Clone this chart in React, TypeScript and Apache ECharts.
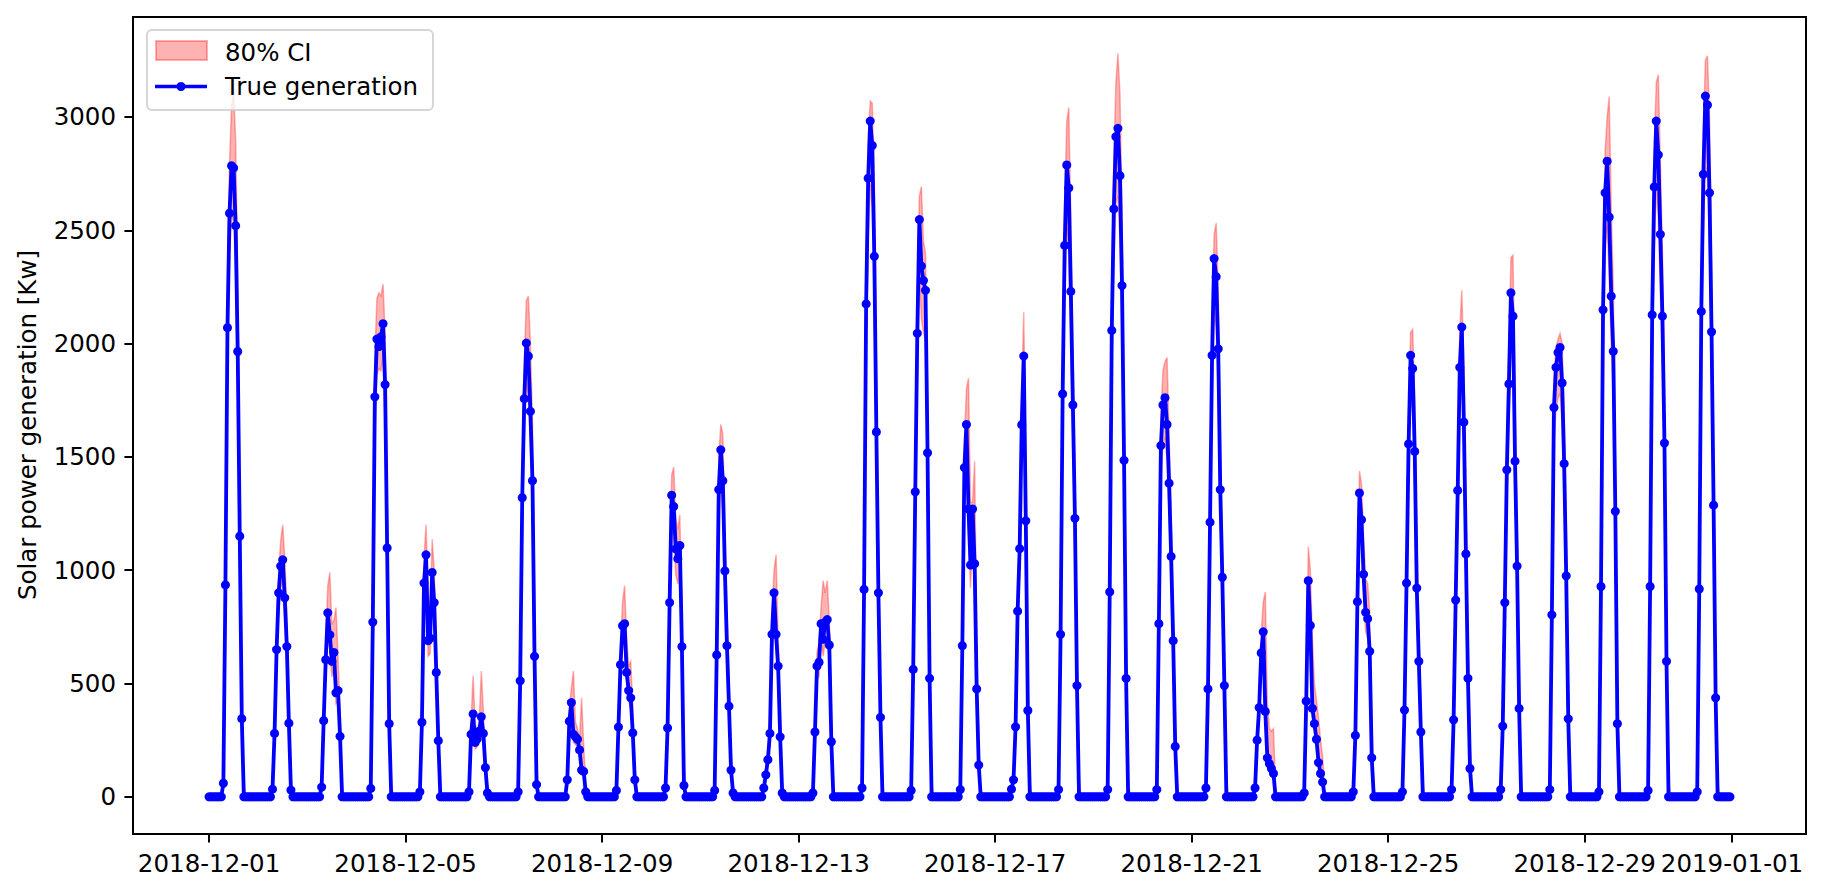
import React, { useEffect, useRef } from "react";
import * as echarts from "echarts";

// Hourly data, Dec 1 2018 00:00 .. Dec 31 2018 23:00. Daytime values start at 07:00.
const startHour = 7;
const numDays = 31;

// True generation, hours 07..16 per day (0 at all other hours)
const trueGen: number[][] = [
  [60, 935, 2070, 2575, 2785, 2775, 2520, 1965, 1150, 345],
  [34, 280, 650, 900, 1018, 1046, 878, 663, 325, 30],
  [43, 336, 605, 812, 715, 598, 637, 459, 469, 267],
  [37, 771, 1765, 2020, 1987, 2030, 2088, 1819, 1098, 323],
  [22, 329, 943, 1068, 689, 700, 990, 857, 549, 248],
  [22, 276, 366, 240, 255, 290, 353, 280, 129, 17],
  [22, 512, 1320, 1757, 2002, 1944, 1701, 1395, 620, 54],
  [75, 334, 416, 276, 265, 254, 207, 118, 112, 22],
  [28, 308, 583, 755, 764, 549, 469, 437, 282, 75],
  [39, 304, 857, 1331, 1281, 1094, 1051, 1109, 663, 50],
  [28, 626, 1356, 1531, 1395, 997, 667, 400, 118, 17],
  [39, 97, 164, 280, 717, 900, 717, 577, 265, 17],
  [17, 286, 577, 594, 764, 695, 771, 782, 670, 243],
  [39, 915, 2175, 2730, 2982, 2874, 2385, 1610, 900, 351],
  [28, 562, 1346, 2045, 2547, 2342, 2278, 2235, 1518, 523],
  [32, 667, 1453, 1643, 1270, 1023, 1270, 1029, 476, 140],
  [0, 34, 75, 309, 819, 1095, 1642, 1945, 1218, 381],
  [32, 717, 1778, 2433, 2788, 2687, 2230, 1729, 1229, 491],
  [32, 904, 2058, 2594, 2913, 2950, 2741, 2256, 1485, 523],
  [32, 764, 1550, 1729, 1761, 1643, 1384, 1061, 689, 222],
  [39, 476, 1212, 1948, 2375, 2295, 1977, 1356, 969, 491],
  [39, 250, 394, 635, 728, 377, 172, 146, 125, 103],
  [17, 422, 954, 756, 390, 323, 254, 151, 103, 65],
  [22, 271, 861, 1341, 1223, 982, 814, 786, 642, 172],
  [22, 383, 943, 1557, 1948, 1890, 1524, 921, 598, 286],
  [32, 340, 868, 1352, 1895, 2073, 1653, 1072, 523, 125],
  [32, 312, 857, 1443, 1822, 2224, 2121, 1481, 1018, 390],
  [32, 803, 1718, 1895, 1961, 1983, 1826, 1470, 975, 344],
  [22, 928, 2149, 2665, 2805, 2558, 2209, 1966, 1260, 323],
  [28, 928, 2127, 2691, 2982, 2833, 2482, 2121, 1561, 598],
  [22, 917, 2142, 2747, 3092, 3053, 2665, 2052, 1287, 437],
];

// 80% CI upper bound, hours 07..17 per day
const ciUpper: number[][] = [
  [90, 1050, 2260, 2800, 3050, 3110, 2900, 2300, 1400, 480, 60],
  [60, 330, 720, 1000, 1130, 1200, 1050, 800, 420, 80, 10],
  [70, 390, 700, 930, 990, 760, 780, 835, 620, 380, 60],
  [60, 880, 1950, 2200, 2224, 2210, 2263, 2050, 1350, 450, 60],
  [40, 380, 1050, 1201, 900, 800, 1137, 1000, 680, 330, 40],
  [40, 340, 534, 320, 290, 340, 555, 380, 190, 50, 10],
  [40, 590, 1450, 1930, 2190, 2209, 2000, 1650, 900, 150, 20],
  [110, 390, 480, 555, 330, 300, 260, 437, 230, 60, 10],
  [50, 350, 660, 860, 932, 700, 580, 598, 400, 130, 20],
  [60, 350, 950, 1420, 1455, 1230, 1180, 1244, 800, 130, 15],
  [50, 700, 1500, 1643, 1600, 1180, 820, 520, 200, 40, 5],
  [60, 130, 210, 340, 800, 1000, 1068, 700, 400, 60, 10],
  [30, 330, 640, 680, 840, 954, 900, 954, 780, 380, 40],
  [60, 1000, 2330, 2900, 3070, 3060, 2700, 1900, 1100, 480, 60],
  [50, 620, 1470, 2220, 2650, 2693, 2450, 2400, 1800, 700, 80],
  [50, 740, 1580, 1800, 1847, 1300, 1300, 1481, 700, 230, 30],
  [10, 55, 110, 360, 900, 1200, 1800, 2138, 1500, 550, 70],
  [50, 790, 1930, 2630, 2980, 3042, 2550, 2000, 1450, 650, 80],
  [50, 980, 2230, 2800, 3150, 3280, 3100, 2600, 1750, 700, 80],
  [50, 830, 1680, 1880, 1920, 1938, 1600, 1250, 850, 330, 40],
  [60, 530, 1320, 2100, 2480, 2532, 2250, 1600, 1150, 620, 80],
  [60, 290, 460, 720, 860, 904, 420, 300, 290, 301, 40],
  [40, 480, 1104, 1000, 700, 500, 426, 350, 250, 180, 40],
  [40, 320, 950, 1438, 1380, 1150, 960, 943, 820, 350, 40],
  [40, 430, 1040, 1700, 2050, 2063, 1750, 1150, 750, 400, 50],
  [50, 380, 950, 1480, 2060, 2235, 1900, 1300, 700, 250, 30],
  [50, 350, 940, 1580, 2000, 2380, 2390, 1750, 1200, 550, 60],
  [50, 870, 1850, 1980, 2020, 2045, 2000, 1700, 1200, 500, 60],
  [40, 1000, 2300, 2850, 3000, 3090, 2600, 2250, 1500, 450, 50],
  [50, 1000, 2280, 2880, 3150, 3186, 2800, 2400, 1800, 780, 90],
  [40, 990, 2300, 2950, 3250, 3270, 3000, 2350, 1550, 600, 70],
];

// 80% CI lower bound, hours 07..16 per day
const ciLower: number[][] = [
  [40, 820, 1880, 2380, 2560, 2540, 2300, 1780, 1020, 290],
  [20, 240, 580, 810, 920, 950, 790, 590, 280, 20],
  [30, 290, 540, 730, 640, 530, 570, 410, 420, 230],
  [25, 690, 1600, 1860, 1890, 1880, 1950, 1650, 990, 280],
  [15, 290, 850, 960, 620, 630, 890, 770, 490, 220],
  [15, 240, 320, 210, 220, 250, 310, 240, 110, 10],
  [15, 450, 1180, 1580, 1820, 1760, 1540, 1250, 540, 40],
  [55, 290, 370, 240, 230, 220, 180, 100, 95, 15],
  [20, 270, 520, 680, 690, 490, 420, 390, 250, 60],
  [25, 270, 770, 1200, 1150, 980, 940, 1000, 590, 40],
  [20, 560, 1220, 1380, 1260, 900, 600, 360, 100, 10],
  [25, 80, 140, 250, 640, 810, 640, 520, 240, 10],
  [10, 250, 520, 530, 690, 620, 690, 700, 600, 210],
  [25, 820, 1960, 2460, 2700, 2600, 2150, 1450, 810, 310],
  [20, 500, 1210, 1840, 2290, 2110, 2050, 2010, 1370, 470],
  [20, 600, 1310, 1480, 1140, 920, 1140, 930, 430, 120],
  [0, 20, 60, 270, 730, 980, 1480, 1750, 1100, 340],
  [20, 640, 1600, 2190, 2510, 2420, 2010, 1560, 1100, 440],
  [20, 810, 1850, 2330, 2620, 2650, 2460, 2030, 1340, 470],
  [20, 690, 1400, 1560, 1580, 1480, 1250, 950, 620, 200],
  [25, 430, 1090, 1750, 2140, 2070, 1780, 1220, 870, 440],
  [25, 220, 350, 570, 650, 340, 150, 130, 110, 90],
  [10, 380, 860, 680, 350, 290, 230, 135, 90, 55],
  [15, 240, 770, 1200, 1100, 880, 730, 700, 580, 150],
  [15, 340, 850, 1400, 1750, 1700, 1370, 830, 540, 250],
  [20, 300, 780, 1220, 1700, 1860, 1490, 960, 470, 110],
  [20, 280, 770, 1300, 1640, 2000, 1900, 1330, 920, 350],
  [20, 720, 1550, 1710, 1760, 1780, 1640, 1320, 880, 310],
  [15, 830, 1930, 2400, 2520, 2300, 1990, 1770, 1130, 290],
  [20, 830, 1910, 2420, 2680, 2550, 2230, 1910, 1400, 540],
  [15, 820, 1930, 2470, 2780, 2750, 2400, 1850, 1160, 390],
];

const xTickDays = [0, 4, 8, 12, 16, 20, 24, 28, 31];
const xTickLabels = [
  "2018-12-01", "2018-12-05", "2018-12-09", "2018-12-13", "2018-12-17",
  "2018-12-21", "2018-12-25", "2018-12-29", "2019-01-01",
];
const yTicks = [0, 500, 1000, 1500, 2000, 2500, 3000];

const legendLabels = ["80% CI", "True generation"];
const yAxisTitle = "Solar power generation [Kw]";

const FONT = "DejaVu Sans";
const FS = 24.5;
const BAND = "rgba(255,0,0,0.3)";

export default function App() {
  const ref = useRef<HTMLDivElement>(null);

  useEffect(() => {
    if (!ref.current) return;
    const chart = echarts.init(ref.current, undefined, { renderer: "svg" });

    const lineData: number[][] = [];
    for (let d = 0; d < numDays; d++) {
      for (let h = 0; h < 24; h++) {
        const x = (d * 24 + h) / 24;
        const idx = h - startHour;
        const v = idx >= 0 && idx < trueGen[d].length ? trueGen[d][idx] : 0;
        lineData.push([x, v]);
      }
    }
    const bandDays: number[][] = [];
    for (let d = 0; d < numDays; d++) bandDays.push([d, 0]);

    const textStyle = { fontFamily: FONT, fontSize: FS, color: "#000" };

    const renderBand = (params: any, api: any) => {
      const d = api.value(0);
      const up = ciUpper[d];
      const lo = ciLower[d];
      const pts: number[][] = [];
      pts.push(api.coord([d + (startHour - 1) / 24, 0]));
      for (let i = 0; i < up.length; i++) {
        pts.push(api.coord([d + (startHour + i) / 24, up[i]]));
      }
      pts.push(api.coord([d + (startHour + up.length) / 24, 0]));
      for (let i = up.length - 1; i >= 0; i--) {
        const l = i < lo.length ? lo[i] : 0;
        pts.push(api.coord([d + (startHour + i) / 24, l]));
      }
      return {
        type: "polygon",
        shape: { points: pts },
        style: { fill: BAND, stroke: BAND, lineWidth: 1.5 },
      };
    };

    chart.setOption({
      animation: false,
      backgroundColor: "#fff",
      grid: {
        left: 133,
        right: 19,
        top: 17,
        bottom: 58,
        show: true,
        borderColor: "#000",
        borderWidth: 2,
        containLabel: false,
      },
      xAxis: {
        type: "value",
        min: -1.548,
        max: 32.506,
        splitLine: { show: false },
        axisLine: { show: true, onZero: false, lineStyle: { color: "#000", width: 2 } },
        axisTick: {
          show: true,
          length: 8.6,
          lineStyle: { color: "#000", width: 2 },
          customValues: xTickDays,
        },
        axisLabel: {
          ...textStyle,
          margin: 17,
          hideOverlap: false,
          customValues: xTickDays,
          formatter: (val: number) => {
            const i = xTickDays.indexOf(Math.round(val));
            return i >= 0 ? xTickLabels[i] : "";
          },
        },
      },
      yAxis: {
        type: "value",
        min: -164,
        max: 3441,
        splitLine: { show: false },
        axisLine: { show: true, onZero: false, lineStyle: { color: "#000", width: 2 } },
        axisTick: {
          show: true,
          length: 8.6,
          lineStyle: { color: "#000", width: 2 },
          customValues: yTicks,
        },
        axisLabel: {
          ...textStyle,
          margin: 17,
          customValues: yTicks,
          formatter: (val: number) => String(Math.round(val)),
        },
      },
      series: [
        {
          name: legendLabels[0],
          type: "custom",
          data: bandDays,
          renderItem: renderBand,
          silent: true,
          clip: true,
          z: 1,
        },
        {
          name: legendLabels[1],
          type: "line",
          data: lineData,
          symbol: "circle",
          symbolSize: 9,
          showSymbol: true,
          showAllSymbol: true,
          itemStyle: { color: "#0000ff", borderWidth: 0 },
          lineStyle: { color: "#0000ff", width: 3.8 },
          silent: true,
          z: 3,
        },
      ],
      graphic: [
        {
          type: "text",
          x: 27,
          y: 425,
          rotation: Math.PI / 2,
          z: 10,
          style: {
            text: yAxisTitle,
            fontFamily: FONT,
            fontSize: FS,
            fill: "#000",
            align: "center",
            verticalAlign: "middle",
            textAlign: "center",
            textVerticalAlign: "middle",
          },
        },
        {
          type: "rect",
          z: 20,
          shape: { x: 147, y: 30, width: 286, height: 80, r: 5 },
          style: { fill: "rgba(255,255,255,0.8)", stroke: "rgba(204,204,204,0.8)", lineWidth: 2 },
        },
        {
          type: "rect",
          z: 21,
          shape: { x: 156, y: 41, width: 51, height: 19 },
          style: { fill: BAND, stroke: BAND, lineWidth: 2 },
        },
        {
          type: "text",
          z: 21,
          x: 225,
          y: 52,
          style: {
            text: legendLabels[0],
            fontFamily: FONT,
            fontSize: FS,
            fill: "#000",
            verticalAlign: "middle",
            textVerticalAlign: "middle",
          },
        },
        {
          type: "line",
          z: 21,
          shape: { x1: 155, y1: 86.5, x2: 207, y2: 86.5 },
          style: { stroke: "#0000ff", lineWidth: 3.7 },
        },
        {
          type: "circle",
          z: 22,
          shape: { cx: 181, cy: 86.5, r: 4.5 },
          style: { fill: "#0000ff" },
        },
        {
          type: "text",
          z: 21,
          x: 225,
          y: 86.5,
          style: {
            text: legendLabels[1],
            fontFamily: FONT,
            fontSize: FS,
            fill: "#000",
            verticalAlign: "middle",
            textVerticalAlign: "middle",
          },
        },
      ],
    });

    return () => {
      chart.dispose();
    };
  }, []);

  return (
    <div
      ref={ref}
      style={{ position: "absolute", left: 0, top: 0, width: 1825, height: 892, background: "#fff" }}
    />
  );
}
